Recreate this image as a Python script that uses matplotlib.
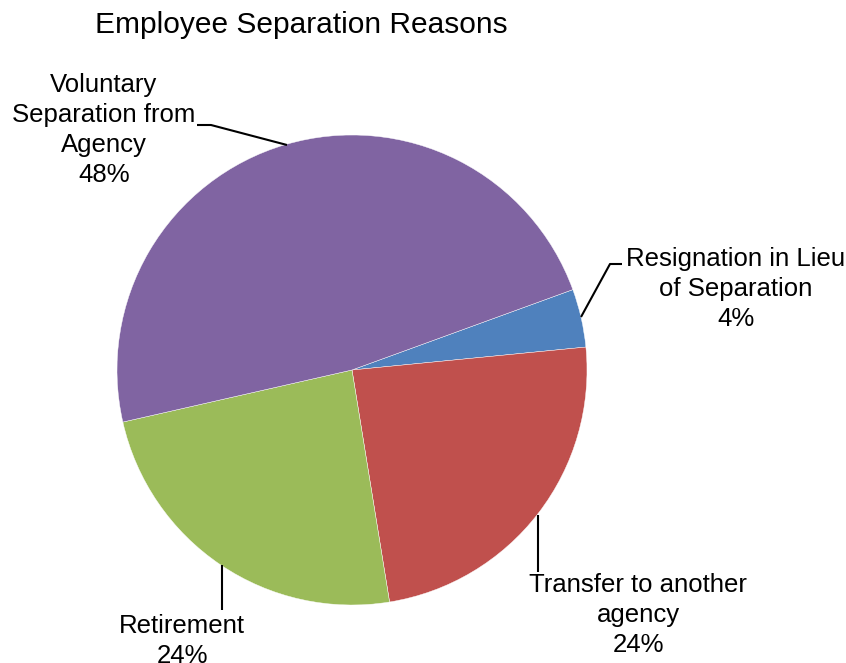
import matplotlib.pyplot as plt

labels = ["Resignation in Lieu\nof Separation", "Transfer to another\nagency",
          "Retirement", "Voluntary\nSeparation from\nAgency"]
shares = [4, 24, 24, 48]
colors = ["#4F81BD", "#C0504D", "#9BBB59", "#8064A2"]

W, H = 846, 663
plt.rcParams['font.family'] = ['Liberation Sans', 'DejaVu Sans']

fig = plt.figure(figsize=(W / 100, H / 100), dpi=100)
ax = fig.add_axes([0, 0, 1, 1])
ax.axis('off')

# pie drawn in pixel-like coords (y flipped, so angles run the other way)
cx, cy, r = 352, 370, 235
ax.pie(shares, colors=colors, startangle=-20, counterclock=True,
       center=(cx, cy), radius=r, wedgeprops=dict(linewidth=0.3, edgecolor='white'))
ax.set_xlim(0, W)
ax.set_ylim(H, 0)
ax.set_aspect('equal')

fs = 18.5
# label text positions and leader lines
text_pos = [(736, 289), (638, 615), (182, 641), (104, 130)]
leaders = [
    [(622, 264), (610, 264), (581, 317)],
    [(538, 515), (538, 572)],
    [(222, 565), (222, 610)],
    [(197, 125), (211, 125), (287, 145)],
]
for lab, v, (tx, ty), pts in zip(labels, shares, text_pos, leaders):
    ax.text(tx, ty, f"{lab}\n{v}%", ha='center', va='center', fontsize=fs,
            linespacing=1.32, color='black')
    xs, ys = zip(*pts)
    ax.plot(xs, ys, color='black', lw=1.5, solid_capstyle='butt')

ax.text(95, 25, "Employee Separation Reasons", ha='left', va='center', fontsize=21.5)

fig.savefig("out.png", dpi=100)
